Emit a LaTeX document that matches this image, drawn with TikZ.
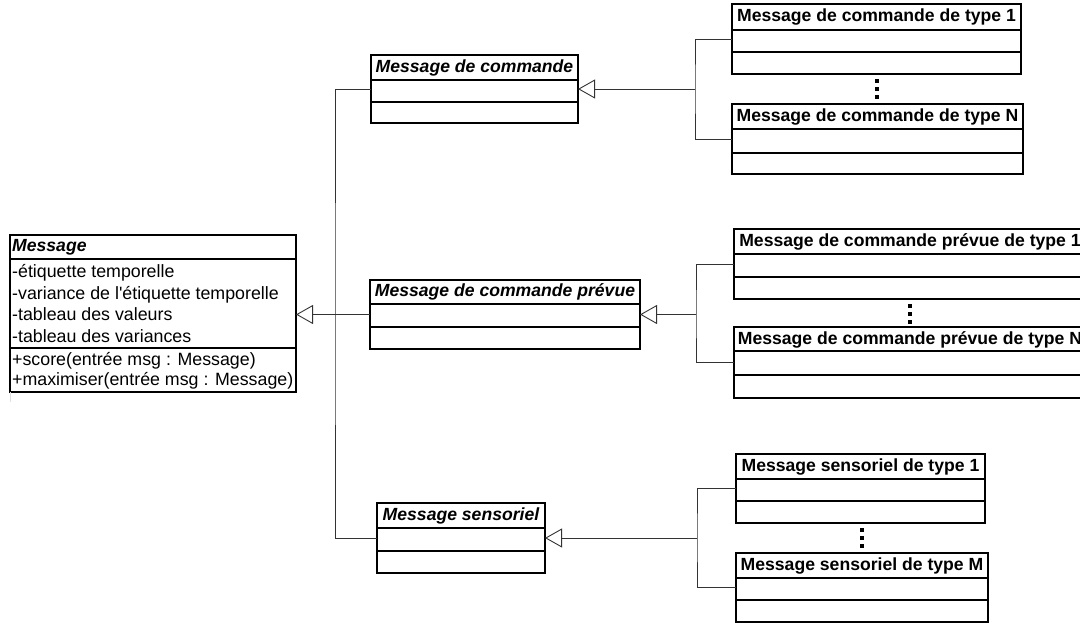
\documentclass[tikz,border=0pt]{standalone}
\usepackage{fontspec}
\setmainfont{Liberation Sans}[Ligatures=TeXOff]
\usetikzlibrary{arrows.meta,positioning}

\begin{document}
\begin{tikzpicture}[
  x=1pt, y=-1pt,
  cls/.style={draw, line width=1.2pt, anchor=north west, inner sep=0pt, outer sep=0pt},
  sepline/.style={line width=1.2pt},
  ttl/.style={font=\fontsize{17.6}{20}\selectfont\bfseries, inner sep=0pt},
  abs/.style={font=\fontsize{17.6}{20}\selectfont\bfseries\itshape, inner sep=0pt},
  attr/.style={font=\fontsize{17.8}{21}\selectfont, inner sep=0pt, anchor=base west},
  link/.style={draw=black!80, line width=0.9pt},
  gen/.style={link, -{Triangle[open, length=17pt, width=19pt]}},
  dotsq/.style={fill, minimum size=3.6pt, inner sep=0pt}
]
\useasboundingbox (0,0) rectangle (1080,623);

% class boxes: name/left/top/right/bottom/first divider/second divider
\foreach \n/\xa/\ya/\xb/\yb/\da/\db in {
  msg/10/235/296/392/259/348,
  cmd/371/55/578/123/80/102,
  prev/370/280/640/349/304/327,
  sens/377/503/545/573/528/551,
  cmda/732/4/1021/74/30/52,
  cmdn/732/104/1023/174/129/153,
  preva/734/229/1086/299/254/277,
  prevn/734/327/1086/398/351/375,
  sensa/736/454/985/523/479/501,
  sensm/736/553/988/622/578/600}{
  \node[cls, minimum width={\xb-\xa}, minimum height={\yb-\ya}] (\n) at (\xa,\ya) {};
  \draw[sepline] (\xa,\da) -- (\xb,\da) (\xa,\db) -- (\xb,\db);
}

% titles
\node[abs, anchor=west] (msgt) at ([xshift=2pt,yshift=-12pt]msg.north west) {Message};
\node[abs] (cmdt) at ([yshift=-12.5pt]cmd.north) {Message de commande};
\node[abs] (prevt) at ([yshift=-12pt]prev.north) {Message de commande prévue};
\node[abs] (senst) at ([yshift=-12.5pt]sens.north) {Message sensoriel};
\node[ttl] (cmdat) at ([yshift=-13pt]cmda.north) {Message de commande de type 1};
\node[ttl] (cmdnt) at ([yshift=-12.5pt]cmdn.north) {Message de commande de type N};
\node[ttl] (prevat) at ([yshift=-12.5pt]preva.north) {Message de commande prévue de type 1};
\node[ttl] (prevnt) at ([yshift=-12.5pt]prevn.north) {Message de commande prévue de type N};
\node[ttl] (sensat) at ([yshift=-12.5pt]sensa.north) {Message sensoriel de type 1};
\node[ttl] (sensmt) at ([yshift=-12.5pt]sensm.north) {Message sensoriel de type M};

% attributes and methods of Message
\foreach \t [count=\i] in {-étiquette temporelle, -variance de l'étiquette temporelle,
  -tableau des valeurs, -tableau des variances}
  \node[attr] (attr\i) at (12,{256+21.5*\i}) {\t};
\node[attr] (meth1) at (12,365) {+score(entrée msg : Message)};
\node[attr] (meth2) at (12,385) {+maximiser(entrée msg : Message)};
\draw[gray!25, line width=1pt] (msg.south west) -- ++(0,10);

% inheritance
\coordinate (jmain) at (335,314);
\draw[gen] (prev.west) -- (prev.west -| msg.east);
\draw[link] (cmd.west) -| (jmain) |- (sens.west);

\coordinate (jcmd) at (695,89);
\draw[gen] (jcmd) -- (cmd.east);
\draw[link] (cmda.west) -| (jcmd) |- (cmdn.west);

\coordinate (jprev) at (696,314.5);
\draw[gen] (jprev) -- (prev.east);
\draw[link] (preva.west) -| (jprev) |- (prevn.west);

\coordinate (jsens) at (697,538);
\draw[gen] (jsens) -- (sens.east);
\draw[link] (sensa.west) -| (jsens) |- (sensm.west);

% vertical ellipses
\coordinate (cdots) at (877,89);
\coordinate (pdots) at (910,314);
\coordinate (sdots) at (862,538);
\foreach \c in {cdots,pdots,sdots}
  \foreach \d in {-8,0,8}
    \node[dotsq] at ([yshift=\d pt]\c) {};
\end{tikzpicture}
\end{document}
